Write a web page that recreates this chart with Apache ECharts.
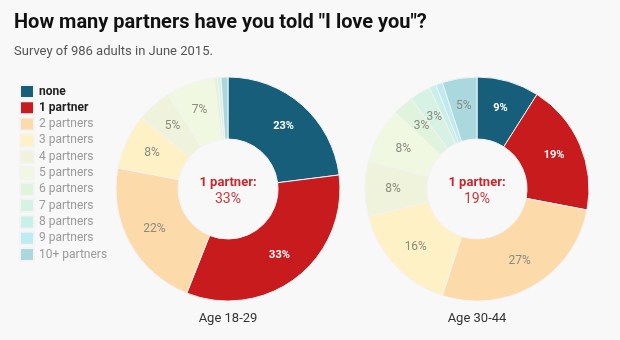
<!DOCTYPE html>
<html><head><meta charset="utf-8">
<script src="https://cdn.jsdelivr.net/npm/echarts@6/dist/echarts.min.js"></script>
<style>html,body{margin:0;padding:0;background:#f8f8f8}#c{width:620px;height:340px}</style>
</head><body><div id="c"></div>
<script>
const categories = ['none','1 partner','2 partners','3 partners','4 partners','5 partners','6 partners','7 partners','8 partners','9 partners','10+ partners'];
const age1829 = [23,33,22,8,5,7,0.5,0.5,0,0,1];
const age3044 = [9,19,27,16,8,8,3,3,1,1,5];
const groupLabels = ['Age 18-29','Age 30-44'];
const colors = ['#175e7a','#c81b1d','#fddaa9','#fef1c6','#eff3db','#f1f8e1','#e0f3dd','#d6f2e5','#c9efe9','#bdebf1','#a9d9df'];

function build(values){
  return categories.map((n,i)=>{
    const dark = i < 2;
    return {name:n, value:values[i],
      label:{show: values[i] >= 3, color: dark ? '#fff' : '#8a8a80', fontWeight: dark ? 'bold' : 'normal', fontSize: dark ? 11 : 12}};
  });
}
const chart = echarts.init(document.getElementById('c'), null, {renderer:'canvas'});
const series = [age1829, age3044].map((vals,k)=>({
  type:'pie', radius:[50,112], center:[228 + k*249, 189], startAngle:90, clockwise:true,
  avoidLabelOverlap:false, silent:true, minShowLabelAngle:0,
  itemStyle:{borderColor:'#f3f3f3', borderWidth:1},
  label:{position:'inside', formatter:'{c}%', fontFamily:'Roboto', overflow:'none'},
  labelLayout:{hideOverlap:false},
  labelLine:{show:false},
  data: build(vals)
}));
const legendData = categories.map((n,i)=>({name:n, textStyle:{color: i<2 ? '#222' : '#9a9a9a', fontWeight: i<2 ? 'bold':'normal'}}));
const graphics = [];
[age1829, age3044].forEach((vals,k)=>{
  const cx = 228 + k*249;
  graphics.push({type:'text', x:cx, y:176, style:{text:'1 partner:', fill:'#c8282c', font:'bold 13px Roboto', textAlign:'center'}});
  graphics.push({type:'text', x:cx, y:192, style:{text:vals[1]+'%', fill:'#c8383c', font:'14px Roboto', textAlign:'center'}});
  graphics.push({type:'text', x:cx, y:312, style:{text:groupLabels[k], fill:'#333', font:'13px Roboto', textAlign:'center'}});
});
chart.setOption({
  backgroundColor:'#f8f8f8',
  color: colors,
  animation:false,
  title:{text:'How many partners have you told "I love you"?', subtext:'Survey of 986 adults in June 2015.', left:9, top:8,
    textStyle:{fontFamily:'Roboto', fontWeight:'bold', fontSize:20, color:'#111'},
    subtextStyle:{fontFamily:'Roboto', fontSize:13, color:'#555'}, itemGap:12},
  legend:{orient:'vertical', left:14, top:79, itemWidth:14, itemHeight:13, itemGap:1.3, icon:'rect',
    selectedMode:false, textStyle:{fontFamily:'Roboto', fontSize:12}, data:legendData},
  graphic: graphics,
  series: series
});
</script></body></html>
